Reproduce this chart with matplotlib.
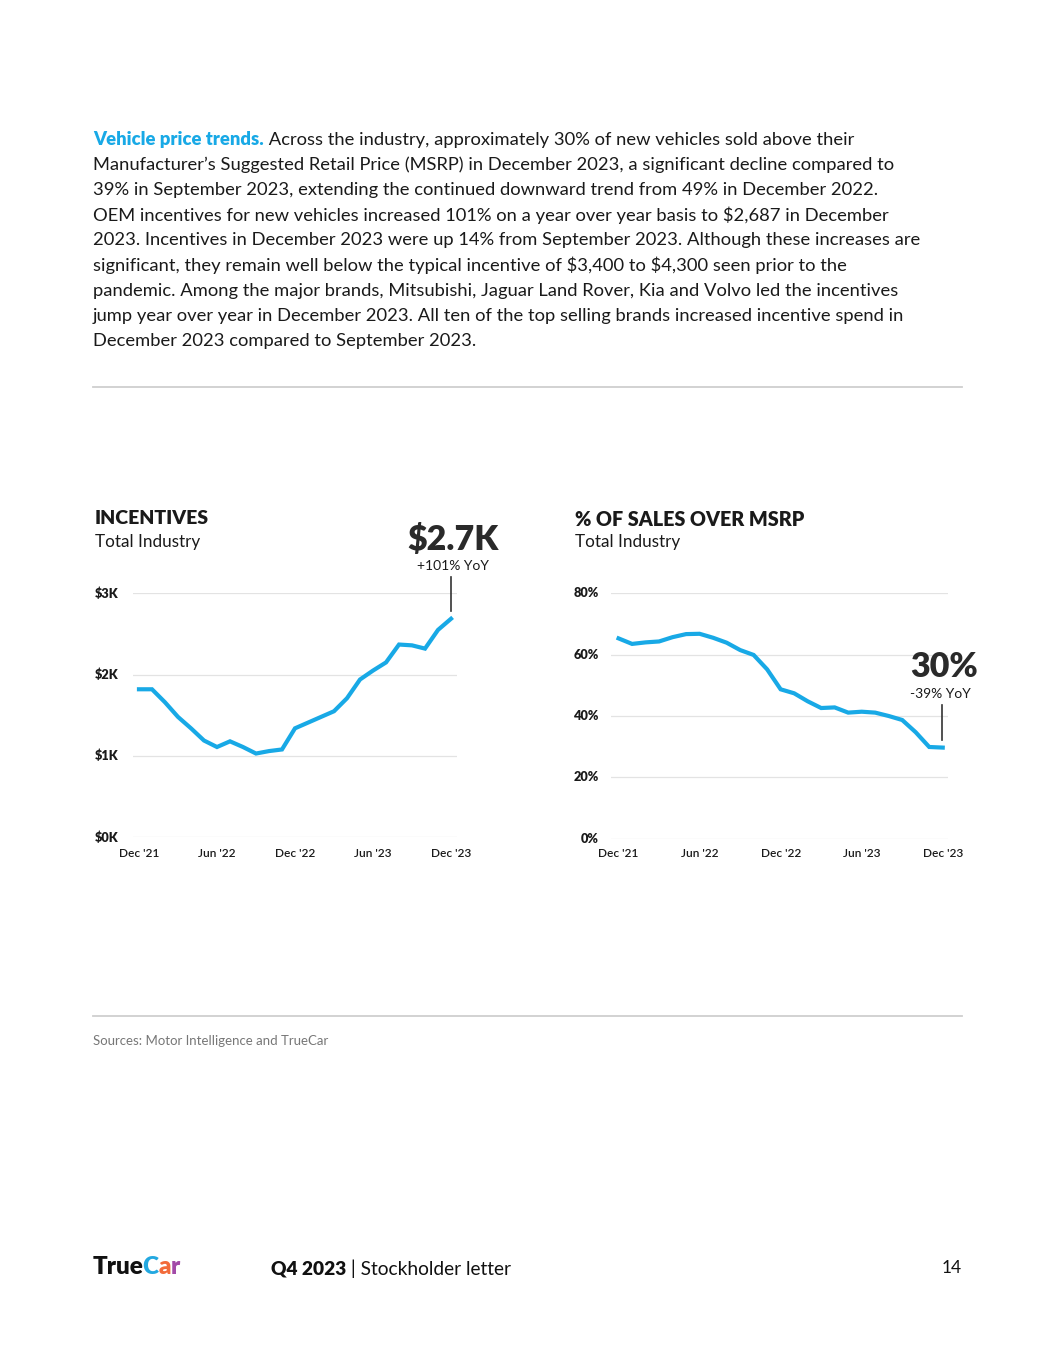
import numpy as np
import matplotlib
matplotlib.use('Agg')
import matplotlib.pyplot as plt
from matplotlib.lines import Line2D

plt.rcParams['font.family'] = ['Lato', 'DejaVu Sans']
plt.rcParams['text.parse_math'] = False

# data
months = ["Dec '21", "Jan '22", "Feb '22", "Mar '22", "Apr '22", "May '22", "Jun '22",
          "Jul '22", "Aug '22", "Sep '22", "Oct '22", "Nov '22", "Dec '22",
          "Jan '23", "Feb '23", "Mar '23", "Apr '23", "May '23", "Jun '23",
          "Jul '23", "Aug '23", "Sep '23", "Oct '23", "Nov '23", "Dec '23"]
incentives = [1.82, 1.82, 1.66, 1.48, 1.34, 1.19, 1.11, 1.18, 1.11, 1.03, 1.06, 1.08,
              1.34, 1.41, 1.48, 1.55, 1.71, 1.94, 2.05, 2.15, 2.37, 2.36, 2.32, 2.55, 2.687]
over_msrp = [65.3, 63.5, 64.0, 64.3, 65.7, 66.7, 66.8, 65.5, 63.9, 61.5, 59.9, 55.2,
             48.7, 47.4, 44.8, 42.6, 42.8, 41.1, 41.4, 41.1, 40.0, 38.7, 34.7, 29.9, 29.7]
xtick_idx = [0, 6, 12, 18, 24]
inc_ticks = [0, 1, 2, 3]
inc_labels = ['$0K', '$1K', '$2K', '$3K']
msrp_ticks = [0, 20, 40, 60, 80]
msrp_labels = ['0%', '20%', '40%', '60%', '80%']

paragraph = [
    "Manufacturer\u2019s Suggested Retail Price (MSRP) in December 2023, a significant decline compared to",
    "39% in September 2023, extending the continued downward trend from 49% in December 2022.",
    "OEM incentives for new vehicles increased 101% on a year over year basis to $2,687 in December",
    "2023. Incentives in December 2023 were up 14% from September 2023. Although these increases are",
    "significant, they remain well below the typical incentive of $3,400 to $4,300 seen prior to the",
    "pandemic. Among the major brands, Mitsubishi, Jaguar Land Rover, Kia and Volvo led the incentives",
    "jump year over year in December 2023. All ten of the top selling brands increased incentive spend in",
    "December 2023 compared to September 2023.",
]

W, H = 1055, 1365
BLUE = '#18a9e6'
DARK = '#1a1a1a'
GRID = '#e3e3e3'

fig = plt.figure(figsize=(W / 100, H / 100), dpi=100)
fig.patch.set_facecolor('white')


def fx(x):
    return x / W


def fy(y):
    return 1 - y / H


renderer = fig.canvas.get_renderer()

# paragraph
PSIZE = 13.2
t = fig.text(fx(93), fy(140), "Vehicle price trends.", color=BLUE, fontweight='heavy',
             fontsize=PSIZE, va='center', ha='left')
bb = t.get_window_extent(renderer)
fig.text(bb.x1 / W, fy(140), " Across the industry, approximately 30% of new vehicles sold above their",
         color=DARK, fontsize=PSIZE, va='center', ha='left')
for i, line in enumerate(paragraph):
    fig.text(fx(93), fy(165.2 + i * 25.1), line, color=DARK, fontsize=PSIZE, va='center', ha='left')

# rules
for yy in (387, 1016):
    fig.add_artist(Line2D([fx(93), fx(962)], [fy(yy), fy(yy)], color='#cfcfcf', lw=1.3))

x = np.arange(len(months))


def make_axes(left, right, top, bottom):
    ax = fig.add_axes([fx(left), fy(bottom), (right - left) / W, (bottom - top) / H])
    for s in ax.spines.values():
        s.set_visible(False)
    ax.set_xticks([])
    ax.set_yticks([])
    ax.patch.set_alpha(0)
    return ax


# left chart: incentives
ax1 = make_axes(133, 457, 593.3, 837.3)
ax1.set_ylim(0, 3)
ax1.set_xlim(-0.46, 24.46)
for v, lab in zip(inc_ticks, inc_labels):
    ax1.axhline(v, color=GRID, lw=0.9, zorder=1)
    ax1.text(-0.117, v, lab, transform=ax1.get_yaxis_transform(), ha='left', va='center',
             fontsize=9.2, fontweight='heavy', color=DARK)
for i in xtick_idx:
    ax1.text(i, -0.066, months[i], transform=ax1.get_xaxis_transform(), ha='center', va='center',
             fontsize=8.6, fontweight='semibold', color=DARK)
ax1.plot(x, incentives, color=BLUE, lw=3.0, solid_joinstyle='miter', zorder=3, clip_on=False)

fig.text(fx(95), fy(519), "INCENTIVES", fontsize=14, fontweight='heavy', color=DARK, va='center')
fig.text(fx(95), fy(542), "Total Industry", fontsize=12.3, color=DARK, va='center')
fig.text(fx(453), fy(540), "$2.7K", fontsize=24.5, fontweight='heavy', color='#2a2a2a',
         ha='center', va='center')
fig.text(fx(453), fy(565.5), "+101% YoY", fontsize=10, color=DARK, ha='center', va='center')
fig.add_artist(Line2D([fx(451), fx(451)], [fy(577), fy(611)], color='#333333', lw=1.2))

# right chart: % over MSRP
ax2 = make_axes(611, 948, 593.3, 838.7)
ax2.set_ylim(0, 80)
ax2.set_xlim(-0.56, 24.39)
for v, lab in zip(msrp_ticks, msrp_labels):
    ax2.axhline(v, color=GRID, lw=0.9, zorder=1)
    ax2.text(-0.036, v, lab, transform=ax2.get_yaxis_transform(), ha='right', va='center',
             fontsize=9.2, fontweight='heavy', color=DARK)
for i in xtick_idx:
    ax2.text(i, -0.06, months[i], transform=ax2.get_xaxis_transform(), ha='center', va='center',
             fontsize=8.6, fontweight='semibold', color=DARK)
ax2.plot(x, over_msrp, color=BLUE, lw=3.0, solid_joinstyle='miter', zorder=3, clip_on=False)

fig.text(fx(575), fy(519), "% OF SALES OVER MSRP", fontsize=14.2, fontweight='heavy', color=DARK, va='center')
fig.text(fx(575), fy(542), "Total Industry", fontsize=12.3, color=DARK, va='center')
fig.text(fx(944), fy(667), "30%", fontsize=24.5, fontweight='heavy', color='#2a2a2a',
         ha='center', va='center')
fig.text(fx(940), fy(694.5), "-39% YoY", fontsize=10, color=DARK, ha='center', va='center')
fig.add_artist(Line2D([fx(942), fx(942)], [fy(705), fy(740)], color='#333333', lw=1.2))

# sources
fig.text(fx(93), fy(1041), "Sources: Motor Intelligence and TrueCar", fontsize=9.5,
         color='#777777', va='center')

# footer logo, letters placed one after another
t = fig.text(fx(93), fy(1267), "True", fontsize=17.5, fontweight='heavy', color='#111111', va='center')
xpos = t.get_window_extent(renderer).x1 - 1.5
for ch, col in zip("Car", ['#23a8e0', '#f26b3a', '#a24aa8']):
    t = fig.text(xpos / W, fy(1267), ch, fontsize=17.5, fontweight='heavy', color=col, va='center')
    xpos = t.get_window_extent(renderer).x1

t = fig.text(fx(271), fy(1269), "Q4 2023", fontsize=13.8, fontweight='heavy', color='#111111', va='center')
xb = t.get_window_extent(renderer).x1
fig.text(xb / W, fy(1269), " | Stockholder letter", fontsize=13.8, color='#111111', va='center')
fig.text(fx(962), fy(1268), "14", fontsize=12.5, color='#111111', ha='right', va='center')

fig.savefig('out.png', dpi=100, facecolor='white')
